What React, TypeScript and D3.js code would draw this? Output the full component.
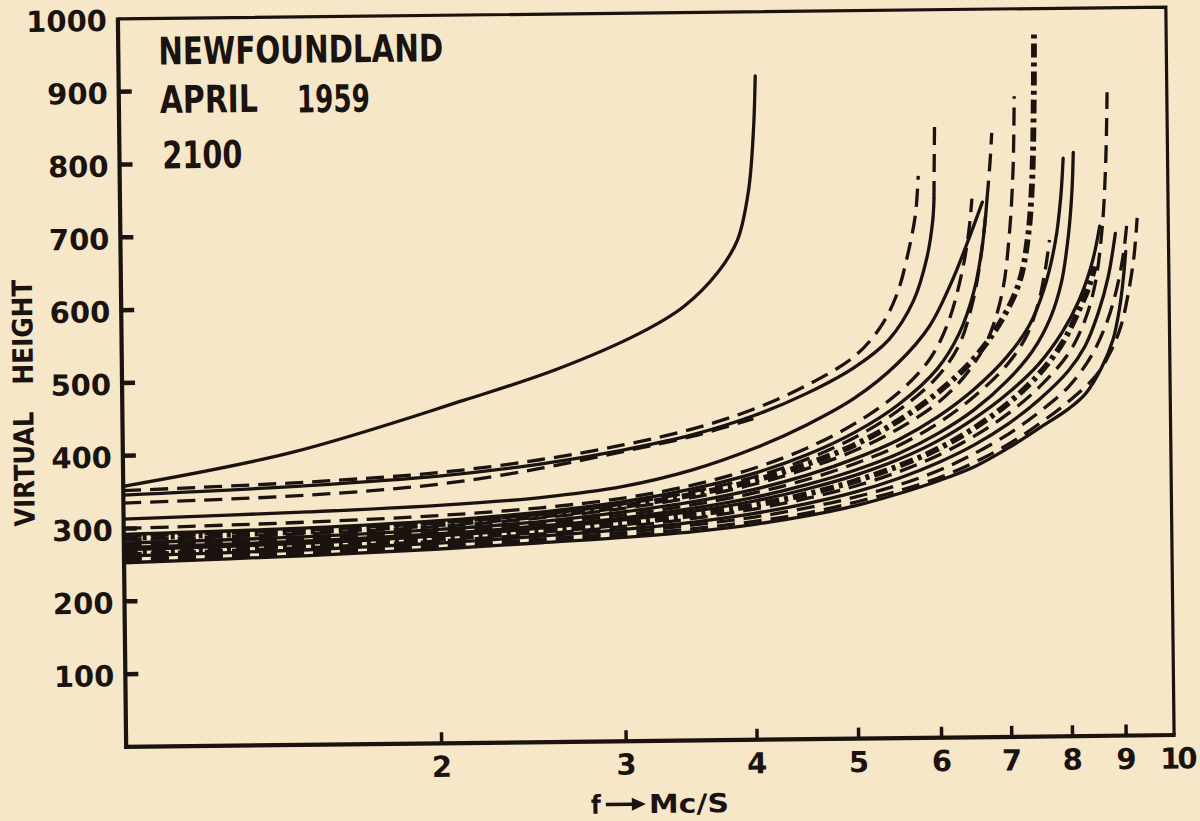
import React from 'react';
import * as d3 from 'd3';

const W = 1200;
const H = 821;
const PLOT = { left: 122, right: 1170, top: 13, bottom: 741 };
const TILT = -0.65;
const CX = 646;
const CY = 377;
const INK = '#1b1310';
const PAPER = '#f5e7c7';
const FONT = '"DejaVu Sans", "Liberation Sans", sans-serif';

const xTickValues = [2, 3, 4, 5, 6, 7, 8, 9, 10];
const xTickLabels = ['2', '3', '4', '5', '6', '7', '8', '9', '10'];
const yTickValues = [100, 200, 300, 400, 500, 600, 700, 800, 900, 1000];
const yTickLabels = ['100', '200', '300', '400', '500', '600', '700', '800', '900', '1000'];

type Pt = [number, number];

const curveA: Pt[] = [[1, 358], [1.45, 402], [2.12, 471], [2.6, 512], [3.12, 560], [3.44, 596], [3.71, 642], [3.88, 687], [3.98, 755], [4.03, 840], [4.05, 912]];
const curveBDash: Pt[] = [[1, 352], [1.5, 361], [2, 372], [2.5, 388], [3, 407], [3.5, 428], [4, 454], [4.5, 486], [5, 525], [5.3, 565], [5.5, 610], [5.65, 670], [5.74, 720], [5.78, 772]];
const curveB2Dash: Pt[] = [[1, 335], [1.5, 343], [2, 356], [2.5, 376], [3, 398], [3.5, 418], [4, 441]];
const curveB: Pt[] = [[1, 346], [1.5, 356], [2, 367], [2.5, 382], [3, 400], [3.5, 420], [4, 445], [4.5, 475], [5, 510], [5.4, 548], [5.7, 600], [5.88, 660], [5.96, 710], [5.98, 740]];
const curveBTop: Pt[] = [[5.98, 740], [5.99, 800], [6.0, 850]];
const curveC: Pt[] = [[1, 313], [1.5, 320], [2, 327], [2.5, 336], [3, 350], [3.5, 372], [4, 400], [4.5, 432], [5, 468], [5.5, 515], [5.9, 565], [6.2, 625], [6.45, 685], [6.65, 735]];
const curveD: Pt[] = [[1, 300], [1.5, 306], [2, 313], [2.5, 322], [3, 334], [3.5, 351], [4, 373], [4.5, 400], [5, 433], [5.5, 474], [5.9, 520], [6.15, 570], [6.35, 640], [6.45, 695], [6.5, 740]];
const curveE: Pt[] = [[1, 292], [1.5, 298], [2, 306], [2.5, 316], [3, 329], [3.5, 346], [4, 366], [4.5, 391], [5, 421], [5.5, 458], [6, 507], [6.3, 555], [6.52, 615], [6.65, 680], [6.72, 740]];
const curveETop: Pt[] = [[6.72, 740], [6.77, 790], [6.8, 830]];
const curveH: Pt[] = [[1, 289], [1.5, 295], [2, 303], [2.5, 313], [3, 326], [3.5, 342], [4, 361], [4.5, 385], [5, 414], [5.5, 450], [6, 496], [6.3, 540], [6.5, 600], [6.62, 660], [6.7, 720]];
const curveF: Pt[] = [[1, 287], [1.5, 293], [2, 301], [2.5, 311], [3, 323], [3.5, 338], [4, 356], [4.5, 378], [5, 404], [5.5, 436], [6, 474], [6.5, 520], [6.9, 570], [7.2, 625], [7.35, 690], [7.42, 760], [7.46, 860], [7.48, 965]];
const curveG: Pt[] = [[1, 284], [1.5, 290], [2, 298], [2.5, 308], [3, 320], [3.5, 334], [4, 351], [4.5, 372], [5, 396], [5.5, 425], [6, 460], [6.4, 500], [6.7, 545], [6.93, 610], [7.05, 690], [7.12, 780], [7.15, 880]];
const curveI: Pt[] = [[1, 280], [1.5, 286], [2, 294], [2.5, 303], [3, 315], [3.5, 328], [4, 344], [4.5, 363], [5, 385], [5.5, 410], [6, 441], [6.5, 478], [7, 523], [7.35, 565], [7.6, 615], [7.8, 680], [7.9, 740], [7.95, 794]];
const curveK: Pt[] = [[1, 277], [1.5, 283], [2, 291], [2.5, 300], [3, 311], [3.5, 324], [4, 339], [4.5, 357], [5, 378], [5.5, 402], [6, 432], [6.5, 468], [7, 512], [7.3, 550], [7.5, 595], [7.62, 640], [7.7, 682]];
const curveJ: Pt[] = [[1, 274], [1.5, 280], [2, 288], [2.5, 297], [3, 307], [3.5, 319], [4, 333], [4.5, 350], [5, 369], [5.5, 391], [6, 418], [6.5, 450], [7, 490], [7.4, 530], [7.7, 575], [7.9, 625], [8.03, 690], [8.1, 750], [8.13, 802]];
const curveL: Pt[] = [[1, 271], [1.5, 277], [2, 285], [2.5, 294], [3, 304], [3.5, 315], [4, 328], [4.5, 344], [5, 362], [5.5, 383], [6, 408], [6.5, 438], [7, 472], [7.5, 512], [7.9, 555], [8.2, 598], [8.45, 650], [8.6, 700]];
const curveM: Pt[] = [[1, 268], [1.5, 274], [2, 281], [2.5, 290], [3, 299], [3.5, 310], [4, 322], [4.5, 337], [5, 354], [5.5, 374], [6, 397], [6.5, 425], [7, 458], [7.5, 498], [7.9, 540], [8.2, 585], [8.4, 620], [8.5, 645]];
const curveN: Pt[] = [[1, 265], [1.5, 271], [2, 278], [2.5, 286], [3, 295], [3.5, 305], [4, 317], [4.5, 331], [5, 347], [5.5, 366], [6, 388], [6.5, 414], [7, 444], [7.5, 480], [8, 525], [8.3, 570], [8.5, 620], [8.65, 700], [8.73, 790], [8.77, 884]];
const curveO: Pt[] = [[1, 262], [1.5, 268], [2, 275], [2.5, 283], [3, 291], [3.5, 300], [4, 311], [4.5, 324], [5, 339], [5.5, 357], [6, 378], [6.5, 402], [7, 430], [7.5, 463], [8, 502], [8.3, 535], [8.55, 580], [8.75, 630], [8.9, 690]];
const curveP: Pt[] = [[1, 259], [1.5, 265], [2, 272], [2.5, 279], [3, 287], [3.5, 296], [4, 306], [4.5, 318], [5, 332], [5.5, 348], [6, 367], [6.5, 390], [7, 416], [7.5, 446], [8, 480], [8.4, 520], [8.7, 565], [8.9, 610], [9.05, 660], [9.13, 704]];
const curveQ: Pt[] = [[1, 256], [1.5, 262], [2, 269], [2.5, 276], [3, 283], [3.5, 291], [4, 300], [4.5, 311], [5, 325], [5.5, 340], [6, 357], [6.5, 378], [7, 402], [7.5, 430], [8, 460], [8.5, 495], [8.8, 530], [9.0, 565], [9.15, 610], [9.27, 660], [9.34, 711]];
const curveR: Pt[] = [[1, 253], [1.5, 260], [2, 267], [2.5, 274], [3, 280], [3.5, 287], [4, 296], [4.5, 307], [5, 320], [5.5, 336], [6, 353], [6.5, 372], [7, 397], [7.5, 424], [8, 450], [8.3, 470], [8.6, 505], [8.83, 544], [8.97, 589], [9.05, 630], [9.1, 665]];

type Kind = 'solid' | 'dash' | 'dashdot';
const series: { pts: Pt[]; kind: Kind }[] = [
  { pts: curveA, kind: 'solid' },
  { pts: curveBDash, kind: 'dash' },
  { pts: curveB2Dash, kind: 'dash' },
  { pts: curveB, kind: 'solid' },
  { pts: curveBTop, kind: 'dash' },
  { pts: curveC, kind: 'solid' },
  { pts: curveD, kind: 'dash' },
  { pts: curveE, kind: 'solid' },
  { pts: curveETop, kind: 'dash' },
  { pts: curveH, kind: 'dash' },
  { pts: curveF, kind: 'dashdot' },
  { pts: curveG, kind: 'dash' },
  { pts: curveI, kind: 'solid' },
  { pts: curveK, kind: 'dash' },
  { pts: curveJ, kind: 'solid' },
  { pts: curveL, kind: 'solid' },
  { pts: curveM, kind: 'dashdot' },
  { pts: curveN, kind: 'dash' },
  { pts: curveO, kind: 'solid' },
  { pts: curveP, kind: 'dash' },
  { pts: curveQ, kind: 'dash' },
  { pts: curveR, kind: 'solid' },
];

const styleOf: Record<Kind, { w: number; dash?: string }> = {
  solid: { w: 3.3 },
  dash: { w: 3.3, dash: '18 9' },
  dashdot: { w: 5.8, dash: '14 5 4 5' },
};

export default function App() {
  const x = d3.scaleLog().domain([1, 10]).range([PLOT.left, PLOT.right]);
  const y = d3.scaleLinear().domain([0, 1000]).range([PLOT.bottom, PLOT.top]);
  const line = d3
    .line<Pt>()
    .x((d) => x(d[0]))
    .y((d) => y(d[1]))
    .curve(d3.curveCatmullRom.alpha(0.5));

  const frame = `M${PLOT.left},${PLOT.top}L${PLOT.right},${PLOT.top}L${PLOT.right},${PLOT.bottom}`;

  return (
    <svg
      width={W}
      height={H}
      viewBox={`0 0 ${W} ${H}`}
      style={{ position: 'absolute', left: 0, top: 0, display: 'block' }}
    >
      <rect x={0} y={0} width={W} height={H} fill={PAPER} />
      <g transform={`rotate(${TILT} ${CX} ${CY})`}>
        <path d={frame} fill="none" stroke={INK} strokeWidth={3.2} />
        <line x1={PLOT.left} y1={PLOT.top - 1.5} x2={PLOT.left} y2={PLOT.bottom + 2} stroke={INK} strokeWidth={4.2} />
        <line x1={PLOT.left - 2} y1={PLOT.bottom} x2={PLOT.right + 1.5} y2={PLOT.bottom} stroke={INK} strokeWidth={4.2} />

        {yTickValues.slice(0, -1).map((v) => (
          <line key={'yt' + v} x1={PLOT.left} x2={PLOT.left + 13} y1={y(v)} y2={y(v)} stroke={INK} strokeWidth={4.5} />
        ))}
        {xTickValues.slice(0, -1).map((v) => (
          <line key={'xt' + v} x1={x(v)} x2={x(v)} y1={PLOT.bottom} y2={PLOT.bottom - 11} stroke={INK} strokeWidth={3.5} />
        ))}

        {yTickValues.map((v, i) => (
          <text
            key={'yl' + v}
            x={PLOT.left - 11}
            y={y(v) + 12}
            textAnchor="end"
            fontFamily={FONT}
            fontWeight="bold"
            fontSize={29}
            fill={INK}
          >
            {yTickLabels[i]}
          </text>
        ))}
        {xTickValues.map((v, i) => (
          <text
            key={'xl' + v}
            x={x(v) + (v === 10 ? 3 : 0)}
            y={PLOT.bottom + 33.5}
            textAnchor="middle"
            fontFamily={FONT}
            fontWeight="bold"
            fontSize={29}
            fill={INK}
            letterSpacing={v === 10 ? -3 : 0}
          >
            {xTickLabels[i]}
          </text>
        ))}

        <g fill="none" stroke={INK} strokeLinecap="round" strokeLinejoin="round">
          {series.map((s, i) => (
            <path
              key={'c' + i}
              d={line(s.pts) || ''}
              strokeWidth={styleOf[s.kind].w}
              strokeDasharray={styleOf[s.kind].dash}
              strokeLinecap={s.kind === 'solid' ? 'round' : 'butt'}
            />
          ))}
        </g>

        <g fontFamily={FONT} fontWeight="bold" fill={INK} fontSize={38}>
          <text x={162} y={59} textLength={285} lengthAdjust="spacingAndGlyphs">NEWFOUNDLAND</text>
          <text x={163} y={107.5} textLength={98} lengthAdjust="spacingAndGlyphs">APRIL</text>
          <text x={300} y={108.5} textLength={73} lengthAdjust="spacingAndGlyphs">1959</text>
          <text x={165} y={163} textLength={80} lengthAdjust="spacingAndGlyphs">2100</text>
        </g>

        <g fontFamily={FONT} fontWeight="bold" fill={INK} fontSize={28}>
          <text x={0} y={0} transform="translate(33,462) rotate(-90)" textAnchor="middle" textLength={115} lengthAdjust="spacingAndGlyphs">VIRTUAL</text>
          <text x={0} y={0} transform="translate(33,325) rotate(-90)" textAnchor="middle" textLength={105} lengthAdjust="spacingAndGlyphs">HEIGHT</text>
        </g>
        <g fontFamily={FONT} fontWeight="bold" fill={INK} fontSize={26}>
          <text x={586} y={813} textLength={10} lengthAdjust="spacingAndGlyphs">f</text>
          <text x={644} y={813} textLength={80} lengthAdjust="spacingAndGlyphs">Mc/S</text>
        </g>
        <line x1={601} y1={804} x2={629} y2={804} stroke={INK} strokeWidth={3.5} />
        <path d="M627,797.5 L641,804 L627,810.5 Z" fill={INK} />
      </g>
    </svg>
  );
}
